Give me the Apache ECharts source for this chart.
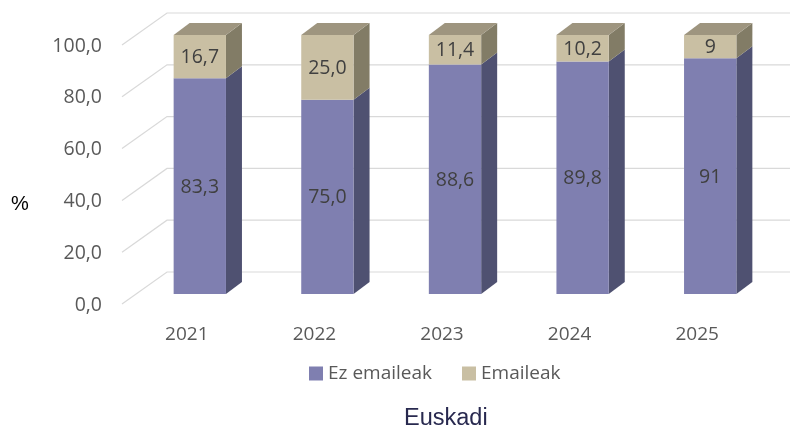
<!DOCTYPE html>
<html>
<head>
<meta charset="utf-8">
<script src="https://cdn.jsdelivr.net/npm/echarts@6/dist/echarts.min.js"></script>
<style>html,body{margin:0;padding:0;background:#fff;}#c{width:793px;height:429px;}</style>
</head>
<body>
<div id="c"></div>
<script>
const years = ['2021', '2022', '2023', '2024', '2025'];
const ezEmaileak = [83.3, 75.0, 88.6, 89.8, 91];
const emaileak = [16.7, 25.0, 11.4, 10.2, 9];
const ezLabels = ['83,3', '75,0', '88,6', '89,8', '91'];
const emLabels = ['16,7', '25,0', '11,4', '10,2', '9'];
const yTicks = [0, 20, 40, 60, 80, 100];
const yTickLabels = ['0,0', '20,0', '40,0', '60,0', '80,0', '100,0'];
const seriesNames = ['Ez emaileak', 'Emaileak'];

const FONT = '"Open Sans", "Noto Sans", sans-serif';
const colors = {
  ez: {front: '#7F7FB0', side: '#4F5171', top: '#6A6A96'},
  em: {front: '#C9BFA3', side: '#827C66', top: '#9E957F'}
};
const DX = 16, DY = 12;

function barRender(pal, labels, isTop) {
  return function (params, api) {
    const i = api.value(0), lo = api.value(1), hi = api.value(2);
    const p0 = api.coord([i, lo]);
    const p1 = api.coord([i, hi]);
    const w = api.size([1, 0])[0] * 0.41;
    const x0 = p0[0] - w / 2, x1 = p0[0] + w / 2;
    const yb = p0[1], yt = p1[1];
    const children = [
      {type: 'polygon', shape: {points: [[x1, yt], [x1 + DX, yt - DY], [x1 + DX, yb - DY], [x1, yb]]}, style: {fill: pal.side}},
      {type: 'rect', shape: {x: x0, y: yt, width: w, height: yb - yt}, style: {fill: pal.front}}
    ];
    if (isTop) {
      children.push({type: 'polygon', shape: {points: [[x0, yt], [x0 + DX, yt - DY], [x1 + DX, yt - DY], [x1, yt]]}, style: {fill: pal.top}});
    }
    children.push({
      type: 'text',
      style: {
        text: labels[params.dataIndex], x: p0[0], y: (yt + yb) / 2 + 1,
        align: 'center', verticalAlign: 'middle',
        fill: '#404040', fontSize: 19.5, fontFamily: FONT
      }
    });
    return {type: 'group', children: children};
  };
}

const gridData = yTicks.map(v => [0, v]);
const ezData = years.map((y, i) => [i, 0, ezEmaileak[i]]);
const emData = years.map((y, i) => [i, ezEmaileak[i], ezEmaileak[i] + emaileak[i]]);

const chart = echarts.init(document.getElementById('c'), null, {renderer: 'canvas'});
chart.setOption({
  animation: false,
  backgroundColor: '#ffffff',
  title: {
    text: 'Euskadi', left: 399, top: 402,
    textStyle: {fontFamily: '"Liberation Sans", Arial, sans-serif', fontSize: 23.5, fontWeight: 'normal', color: '#28294F'}
  },
  graphic: [{
    type: 'text', left: 11, top: 194,
    style: {text: '%', fontFamily: '"Liberation Sans", Arial, sans-serif', fontSize: 20, fill: '#000000'}
  }],
  legend: {
    left: 304, top: 359,
    icon: 'rect', itemWidth: 14, itemHeight: 14, itemGap: 30,
    textStyle: {fontFamily: FONT, fontSize: 19, color: '#595959'},
    data: seriesNames
  },
  grid: {left: 136, right: 19, top: 35, bottom: 135},
  xAxis: {
    type: 'category', data: years,
    axisLine: {show: false}, axisTick: {show: false},
    axisLabel: {margin: 31, padding: [0, 26, 0, 0], fontFamily: FONT, fontSize: 19, color: '#595959'}
  },
  yAxis: {
    type: 'value', min: 0, max: 100, interval: 20,
    splitLine: {show: false}, axisLine: {show: false}, axisTick: {show: false},
    axisLabel: {
      margin: 34, verticalAlign: 'top', lineHeight: 22,
      fontFamily: FONT, fontSize: 19.5, color: '#595959',
      formatter: v => yTickLabels[yTicks.indexOf(v)]
    }
  },
  series: [
    {
      type: 'custom', name: 'grid', silent: true, z: 0,
      encode: {x: 0, y: 1},
      data: gridData,
      renderItem: function (params, api) {
        const cs = params.coordSys;
        const y = api.coord([0, api.value(1)])[1];
        const L = cs.x;
        return {
          type: 'polyline',
          shape: {points: [[L - 14, y + 10], [L + 31, y - 22], [L + 654, y - 22]]},
          style: {stroke: '#D9D9D9', lineWidth: 1.2, fill: null}
        };
      }
    },
    {
      type: 'custom', name: seriesNames[0], z: 2,
      itemStyle: {color: colors.ez.front},
      encode: {x: 0, y: [1, 2]},
      data: ezData,
      renderItem: barRender(colors.ez, ezLabels, false)
    },
    {
      type: 'custom', name: seriesNames[1], z: 3,
      itemStyle: {color: colors.em.front},
      encode: {x: 0, y: [1, 2]},
      data: emData,
      renderItem: barRender(colors.em, emLabels, true)
    }
  ]
});
</script>
</body>
</html>
